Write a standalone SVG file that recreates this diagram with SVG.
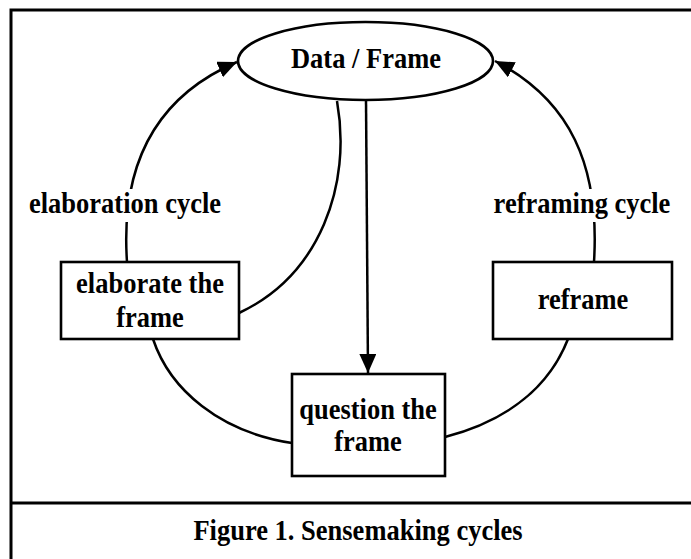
<svg xmlns="http://www.w3.org/2000/svg" width="691" height="559" viewBox="0 0 691 559">
<style>
  .frame { fill: none; stroke: #000; stroke-width: 3; }
  .node { fill: #fff; stroke: #000; stroke-width: 2.6; }
  .edge { fill: none; stroke: #000; stroke-width: 2.5; }
  .lbl { font-family: "Liberation Serif", "Times New Roman", serif; font-weight: bold; font-size: 26.5px; fill: #000; text-anchor: middle; }
</style>
<defs>
  <marker id="arrow" markerUnits="userSpaceOnUse" markerWidth="20" markerHeight="18" refX="19" refY="8.5" orient="auto">
    <path d="M0,0 L19,8.5 L0,17 Z" fill="#000"/>
  </marker>
</defs>
<rect width="691" height="559" fill="#fff"/>
<g id="frame">
  <path class="frame" d="M11,565 L11,10 L700,10"/>
  <line class="frame" x1="11" y1="503" x2="700" y2="503"/>
</g>
<g id="connectors">
  <path class="edge" d="M127,262 C120,160 160,95 237,62" marker-end="url(#arrow)"/>
  <path class="edge" d="M594,262 C600,165 570,100 495,61" marker-end="url(#arrow)"/>
  <path class="edge" d="M337,101 C352,185 320,275 239,313"/>
  <path class="edge" d="M366,100 L368,373" marker-end="url(#arrow)"/>
  <path class="edge" d="M153,339 C170,390 220,432 292,443"/>
  <path class="edge" d="M445,437 C510,420 550,385 568,339"/>
</g>
<g id="label-elaboration-cycle">
  <rect x="26" y="189" width="198" height="33" fill="#fff"/>
  <text class="lbl" transform="translate(125,213) scale(1,1.12)">elaboration cycle</text>
</g>
<g id="label-reframing-cycle">
  <rect x="491" y="189" width="182" height="33" fill="#fff"/>
  <text class="lbl" transform="translate(582,213) scale(1,1.12)">reframing cycle</text>
</g>
<g id="node-data-frame">
  <ellipse class="node" cx="365.5" cy="61" rx="127.5" ry="39"/>
  <text class="lbl" transform="translate(366,68) scale(1,1.12)">Data / Frame</text>
</g>
<g id="node-elaborate">
  <rect class="node" x="61" y="262" width="178" height="77"/>
  <text class="lbl" transform="translate(150,293) scale(1,1.12)">elaborate the</text>
  <text class="lbl" transform="translate(150,327) scale(1,1.12)">frame</text>
</g>
<g id="node-reframe">
  <rect class="node" x="493" y="262" width="179" height="77"/>
  <text class="lbl" transform="translate(583,309) scale(1,1.12)">reframe</text>
</g>
<g id="node-question">
  <rect class="node" x="292" y="374" width="153" height="102"/>
  <text class="lbl" transform="translate(368,419) scale(1,1.12)">question the</text>
  <text class="lbl" transform="translate(368,451) scale(1,1.12)">frame</text>
</g>
<g id="caption">
  <text class="lbl" transform="translate(358,540) scale(1,1.12)">Figure 1. Sensemaking cycles</text>
</g>
</svg>
